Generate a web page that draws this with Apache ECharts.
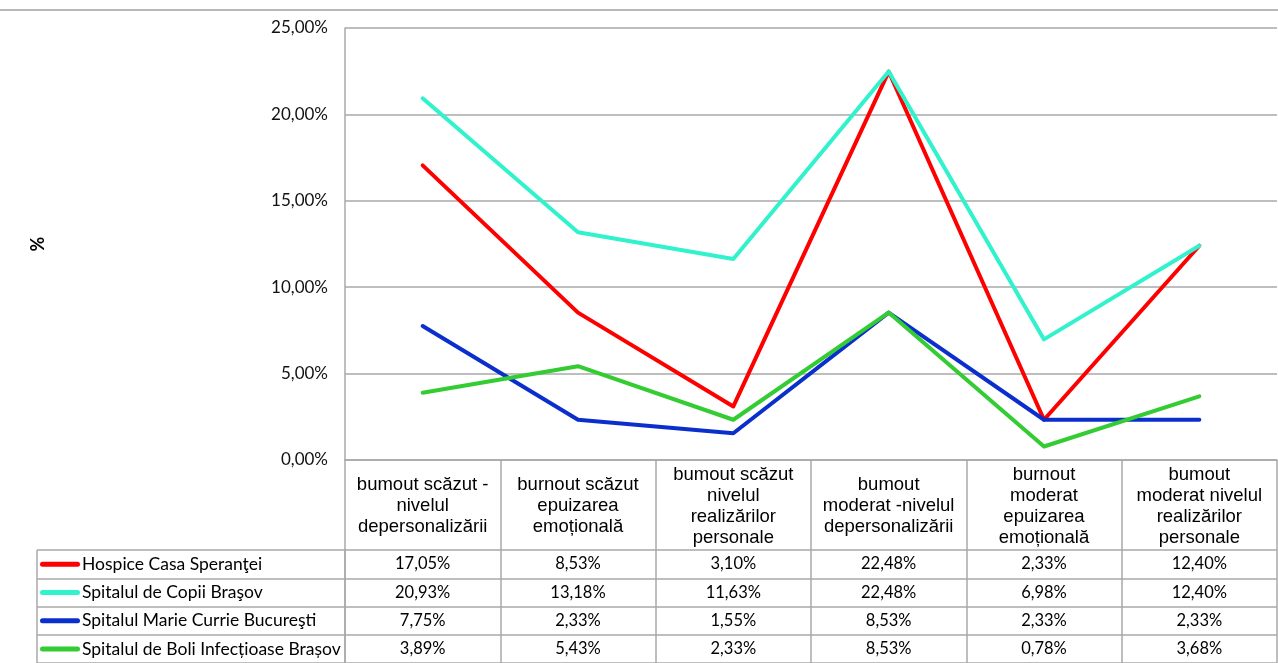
<!DOCTYPE html>
<html><head><meta charset="utf-8">
<script src="https://cdn.jsdelivr.net/npm/echarts@6/dist/echarts.min.js"></script>
<style>html,body{margin:0;padding:0;background:#fff}#c{width:1278px;height:663px}</style>
</head><body><div id="c"></div>
<script>
const categories = [
  'bumout scăzut -\nnivelul\ndepersonalizării',
  'burnout scăzut\nepuizarea\nemoțională',
  'bumout scăzut\nnivelul\nrealizărilor\npersonale',
  'bumout\nmoderat -nivelul\ndepersonalizării',
  'burnout\nmoderat\nepuizarea\nemoțională',
  'bumout\nmoderat nivelul\nrealizărilor\npersonale'
];
const seriesNames = ['Hospice Casa Speranţei', 'Spitalul de Copii Braşov', 'Spitalul Marie Currie Bucureşti', 'Spitalul de Boli Infecțioase Brașov'];
const hospice = [17.05, 8.53, 3.10, 22.48, 2.33, 12.40];
const copii = [20.93, 13.18, 11.63, 22.48, 6.98, 12.40];
const marie = [7.75, 2.33, 1.55, 8.53, 2.33, 2.33];
const boli = [3.89, 5.43, 2.33, 8.53, 0.78, 3.68];
const yTicks = { min: 0, max: 25, interval: 5 };
const colors = ['#ff0000', '#30f2cc', '#0a2fcc', '#33cc33'];

const allValues = [hospice, copii, marie, boli];
const fmt = v => v.toFixed(2).replace('.', ',') + '%';
const gridColor = '#a8a8a8';
const numFont = 'Lato, "Open Sans", sans-serif';
const narrowFont = '"Liberation Sans Narrow", "Arial Narrow", "Liberation Sans", sans-serif';

const headerData = categories.map((c, i) => [i, 0.5, c]);
const cellData = [];
allValues.forEach((arr, s) => arr.forEach((v, i) => cellData.push([i, s, fmt(v)])));

const rich = { t: { fontFamily: numFont, fontSize: 17.5, color: '#000', padding: [0, 0, 0, 2] } };
colors.forEach((c, i) => { rich['k' + i] = { width: 40, height: 5, backgroundColor: c, borderRadius: 3 }; });

const chart = echarts.init(document.getElementById('c'), null, { renderer: 'canvas' });
chart.setOption({
  animation: false,
  backgroundColor: '#fff',
  graphic: [{ type: 'line', shape: { x1: 0, y1: 10, x2: 1278, y2: 10 }, style: { stroke: '#b8b8b8', lineWidth: 2 }, silent: true }],
  grid: [
    { left: 345, top: 28, width: 932, height: 432 },
    { left: 345, top: 460, width: 932, height: 90 },
    { left: 345, top: 550, width: 932, height: 116 },
    { left: 37, top: 550, width: 308, height: 116 }
  ],
  xAxis: [
    { type: 'category', gridIndex: 0, data: categories, boundaryGap: true,
      axisLine: { show: true, lineStyle: { color: gridColor, width: 1.5 } }, axisTick: { show: false }, axisLabel: { show: false }, splitLine: { show: false } },
    { type: 'category', gridIndex: 1, data: categories, boundaryGap: true,
      axisLine: { show: false }, axisTick: { show: false }, axisLabel: { show: false },
      splitLine: { show: true, interval: 0, lineStyle: { color: gridColor, width: 1.5 } } },
    { type: 'category', gridIndex: 2, data: categories, boundaryGap: true,
      axisLine: { show: false }, axisTick: { show: false }, axisLabel: { show: false },
      splitLine: { show: true, interval: 0, lineStyle: { color: gridColor, width: 1.5 } } },
    { type: 'category', gridIndex: 3, data: [''], boundaryGap: true,
      axisLine: { show: false }, axisTick: { show: false }, axisLabel: { show: false },
      splitLine: { show: true, interval: 0, lineStyle: { color: gridColor, width: 1.5 } } }
  ],
  yAxis: [
    { type: 'value', gridIndex: 0, min: yTicks.min, max: yTicks.max, interval: yTicks.interval,
      name: '%', nameLocation: 'middle', nameGap: 298, nameRotate: 90,
      nameTextStyle: { fontFamily: numFont, fontSize: 18, fontWeight: 'bold', color: '#000' },
      axisLine: { show: true, lineStyle: { color: gridColor, width: 1.5 } }, axisTick: { show: false },
      axisLabel: { formatter: fmt, margin: 17, fontFamily: numFont, fontSize: 17, color: '#111' },
      splitLine: { show: true, lineStyle: { color: gridColor, width: 1.5 } } },
    { type: 'value', gridIndex: 1, min: 0, max: 1, show: false },
    { type: 'category', gridIndex: 2, data: seriesNames, inverse: true,
      axisLine: { show: false }, axisTick: { show: false }, axisLabel: { show: false },
      splitLine: { show: true, interval: 0, lineStyle: { color: gridColor, width: 1.5 } } },
    { type: 'category', gridIndex: 3, data: seriesNames, inverse: true,
      axisLine: { show: false }, axisTick: { show: false },
      axisLabel: { show: true, inside: true, margin: 3, align: 'left', interval: 0,
        formatter: (v, i) => '{k' + i + '|}{t|' + v + '}', rich: rich },
      splitLine: { show: true, interval: 0, lineStyle: { color: gridColor, width: 1.5 } } }
  ],
  series: [
    ...allValues.map((arr, s) => ({
      type: 'line', name: seriesNames[s], xAxisIndex: 0, yAxisIndex: 0, data: arr,
      symbol: 'none', lineStyle: { color: colors[s], width: 4, cap: 'round', join: 'round' },
      itemStyle: { color: colors[s] }
    })),
    { type: 'custom', xAxisIndex: 1, yAxisIndex: 1, data: headerData,
      renderItem: (params, api) => {
        const p = api.coord([api.value(0), api.value(1)]);
        return { type: 'text', x: p[0], y: p[1] + 1,
          style: { text: headerData[params.dataIndex][2], fontFamily: narrowFont, fontSize: 18.5, lineHeight: 21,
            fill: '#000', align: 'center', verticalAlign: 'middle' } };
      } },
    { type: 'custom', xAxisIndex: 2, yAxisIndex: 2, data: cellData,
      renderItem: (params, api) => {
        const p = api.coord([api.value(0), api.value(1)]);
        return { type: 'text', x: p[0], y: p[1],
          style: { text: cellData[params.dataIndex][2], fontFamily: numFont, fontSize: 16.5,
            fill: '#000', align: 'center', verticalAlign: 'middle' } };
      } }
  ]
});
</script></body></html>
